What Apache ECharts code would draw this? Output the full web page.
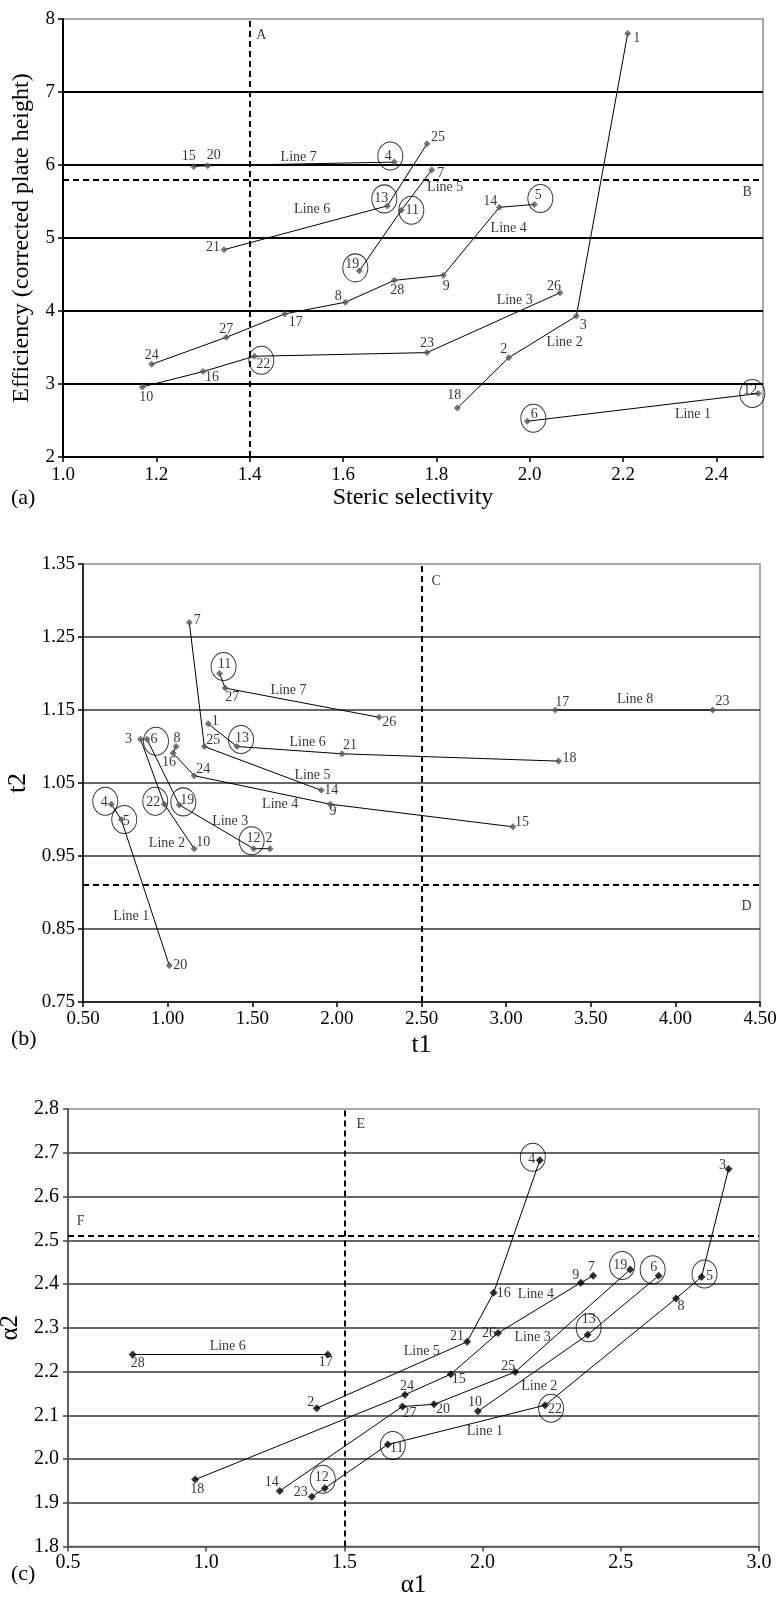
<!DOCTYPE html>
<html><head><meta charset="utf-8">
<script src="https://cdn.jsdelivr.net/npm/echarts@6/dist/echarts.min.js"></script>
<style>html,body{margin:0;padding:0;background:#fff}#c{width:779px;height:1598px}</style>
</head><body><div id="c"></div>
<script>
// ---------- Panel (a): Steric selectivity vs Efficiency ----------
const aIds = [1,2,3,4,5,6,7,8,9,10,11,12,13,14,15,16,17,18,19,20,21,22,23,24,25,26,27,28];
const aX = [2.21,1.955,2.10,1.71,2.01,1.995,1.79,1.605,1.815,1.17,1.725,2.49,1.695,1.935,1.28,1.30,1.475,1.845,1.635,1.31,1.345,1.41,1.78,1.19,1.78,2.065,1.35,1.71];
const aY = [7.80,3.36,3.93,6.04,5.46,2.49,5.93,4.12,4.49,2.96,5.38,2.87,5.44,5.42,5.98,3.17,3.96,2.67,4.55,5.99,4.84,3.38,3.43,3.27,6.29,4.25,3.64,4.42];
const aLines = [[6,12],[18,2,3,1],[10,16,22,23,26],[24,27,17,8,28,9,14,5],[19,11,7],[21,13,25],[15,20,4]];
const aCircled = [4,13,11,19,5,22,6,12];
const aNotes = [['Line 7',1.505,6.108],['Line 6',1.534,5.394],['Line 5',1.819,5.69],['Line 4',1.955,5.131],['Line 3',1.968,4.143],['Line 2',2.075,3.566],['Line 1',2.35,2.588],['A',1.425,7.77],['B',2.466,5.63]];
const aRefX = 1.4, aRefY = 5.8;
const aXAxis = {min:1.0, max:2.5, interval:0.2, decimals:1, name:'Steric selectivity'};
const aYAxis = {min:2, max:8, interval:1, decimals:0, name:'Efficiency (corrected plate height)'};

// ---------- Panel (b): t1 vs t2 ----------
const bIds = [1,2,3,4,5,6,7,8,9,10,11,12,13,14,15,16,17,18,19,20,21,22,23,24,25,26,27];
const bX = [1.24,1.605,0.84,0.667,0.726,0.878,1.128,1.05,1.96,1.157,1.307,1.508,1.41,1.908,3.04,1.032,3.29,3.31,1.069,1.01,2.03,0.98,4.22,1.157,1.217,2.25,1.34];
const bY = [1.131,0.96,1.11,1.021,1.00,1.11,1.27,1.10,1.021,0.96,1.20,0.96,1.10,1.04,0.99,1.091,1.15,1.08,1.02,0.80,1.09,1.021,1.15,1.06,1.10,1.14,1.18];
const bLines = [[4,5,20],[3,22,10],[6,19,12,2],[8,16,24,9,15],[7,25,14],[1,13,21,18],[11,27,26],[17,23]];
const bCircled = [11,13,6,4,5,22,19,12];
const bNotes = [['Line 7',1.714,1.177],['Line 6',1.827,1.106],['Line 5',1.856,1.061],['Line 4',1.665,1.021],['Line 3',1.37,0.998],['Line 2',0.996,0.968],['Line 1',0.785,0.867],['Line 8',3.762,1.164],['C',2.587,1.326],['D',4.42,0.881]];
const bRefX = 2.5, bRefY = 0.907;
const bXAxis = {min:0.5, max:4.5, interval:0.5, decimals:2, name:'t1'};
const bYAxis = {min:0.75, max:1.35, interval:0.1, decimals:2, name:'t2'};

// ---------- Panel (c): α1 vs α2 ----------
const cIds = [2,3,4,5,6,7,8,9,10,11,12,13,14,15,16,17,18,19,20,21,22,23,24,25,26,27,28];
const cX = [1.40,2.89,2.207,2.792,2.637,2.40,2.70,2.355,1.983,1.657,1.429,2.38,1.266,1.885,2.04,1.44,0.96,2.534,1.824,1.944,2.226,1.382,1.719,2.118,2.056,1.71,0.734];
const cY = [2.116,2.663,2.683,2.416,2.419,2.419,2.367,2.403,2.109,2.033,1.933,2.284,1.927,2.194,2.38,2.239,1.953,2.433,2.125,2.268,2.123,1.914,2.147,2.199,2.288,2.12,2.239];
const cLines = [[23,12,11,22,8,5,3],[10,13,6],[14,27,20,25,19],[18,24,15,26,9,7],[2,21,16,4],[28,17]];
const cCircled = [4,19,6,5,13,22,11,12];
const cNotes = [['Line 6',1.078,2.258],['Line 5',1.78,2.245],['Line 4',2.193,2.377],['Line 3',2.181,2.279],['Line 2',2.205,2.166],['Line 1',2.008,2.063],['E',1.559,2.766],['F',0.546,2.544]];
const cRefX = 1.5, cRefY = 2.508;
const cXAxis = {min:0.5, max:3.0, interval:0.5, decimals:1, name:'α1'};
const cYAxis = {min:1.8, max:2.8, interval:0.1, decimals:1, name:'α2'};

// ---------- Styling (label offsets in px relative to each point) ----------
const aLab = {1:[9,5],2:[-5,-8],3:[7,9],4:[-6,-6],5:[4,-9],6:[7,-7],7:[9,3],8:[-7,-6],9:[3,11],10:[4,10],11:[11,0],12:[-8,-3],13:[-6,-8],14:[-9,-6],15:[-5,-10],16:[9,6],17:[11,8],18:[-3,-13],19:[-7,-7],20:[6,-10],21:[-11,-2],22:[9,8],23:[0,-9],24:[0,-9],25:[11,-7],26:[-6,-6],27:[0,-8],28:[3,10]};
const aCir = {4:[-4,-6],5:[6,-6],6:[6,-3],11:[10,0],12:[-6,0],13:[-3,-7],19:[-4,-3],22:[7,4]};
const bLab = {1:[7,-3],2:[-1,-10],3:[-12,0],4:[-7,-2],5:[5,2],6:[7,0],7:[8,-2],8:[1,-8],9:[3,7],10:[9,-6],11:[5,-9],12:[0,-10],13:[5,-8],14:[10,0],15:[9,-4],16:[-4,9],17:[7,-8],18:[11,-3],19:[8,-5],20:[11,0],21:[8,-8],22:[-11,-2],23:[10,-9],24:[9,-6],25:[9,-6],26:[10,5],27:[7,9]};
const bCir = {4:[-6,-3],5:[3,0],6:[9,2],11:[4,-7],12:[-2,-8],13:[4,-7],19:[4,-3],22:[-9,-3]};
const cLab = {2:[-6,-6],3:[-6,-4],4:[-8,-1],5:[8,-1],6:[-5,-8],7:[-2,-8],8:[5,8],9:[-5,-7],10:[-3,-9],11:[9,4],12:[-3,-11],13:[1,-15],14:[-8,-9],15:[8,5],16:[10,1],17:[-2,8],18:[2,10],19:[-10,-4],20:[9,5],21:[-10,-5],22:[10,4],23:[-11,-4],24:[2,-8],25:[-7,-6],26:[-9,0],27:[7,7],28:[5,9]};
const cCir = {4:[-7,-3],5:[3,-3],6:[-6,-6],11:[5,1],12:[-2,-9],13:[1,-7],19:[-8,-4],22:[6,3]};

const FONT = 'Liberation Serif';
const panels = [
  {ids:aIds,x:aX,y:aY,lines:aLines,circ:aCircled,notes:aNotes,rx:aRefX,ry:aRefY,xa:aXAxis,ya:aYAxis,lab:aLab,cir:aCir,
   grid:{left:63,top:19,width:700,height:438}, mk:'#555', mkSize:7, split:'#000', splitW:2, axisC:'#000', axisW:2,
   tickFont:19, nameFont:24, xGap:29, yGap:29, xMarg:9, yMarg:8, hideMax:true},
  {ids:bIds,x:bX,y:bY,lines:bLines,circ:bCircled,notes:bNotes,rx:bRefX,ry:bRefY,xa:bXAxis,ya:bYAxis,lab:bLab,cir:bCir,
   grid:{left:83,top:564,width:677,height:438}, mk:'#555', mkSize:7, split:'#333', splitW:1.5, axisC:'#000', axisW:1.5,
   tickFont:19, nameFont:26, xGap:30, yGap:49, xMarg:8, yMarg:8, hideMax:false},
  {ids:cIds,x:cX,y:cY,lines:cLines,circ:cCircled,notes:cNotes,rx:cRefX,ry:cRefY,xa:cXAxis,ya:cYAxis,lab:cLab,cir:cCir,
   grid:{left:68,top:1109,width:691,height:437.5}, mk:'#000', mkSize:8, split:'#666', splitW:2, axisC:'#444', axisW:1.5,
   tickFont:20, nameFont:25, xGap:26, yGap:33, xMarg:6, yMarg:9, hideMax:false}
];

const grids = [], xAxes = [], yAxes = [], series = [];
panels.forEach((p, g) => {
  grids.push(Object.assign({show:true, borderColor:'#aaa', borderWidth:2, backgroundColor:'transparent', outerBoundsMode:'none', containLabel:false}, p.grid));
  const mkAxis = (ax, isX) => ({
    type:'value', gridIndex:g, min:ax.min, max:ax.max, interval:ax.interval,
    name:ax.name, nameLocation:'middle', nameGap: isX ? p.xGap : p.yGap, nameRotate: isX ? 0 : 90,
    nameTextStyle:{fontFamily:FONT, fontSize:p.nameFont, color:'#000'},
    axisLine:{show:true, onZero:false, lineStyle:{color:p.axisC, width:p.axisW}},
    axisTick:{show:true, inside:false, length:5, lineStyle:{color:p.axisC, width:1.5}},
    axisLabel:{show:true, fontFamily:FONT, fontSize:p.tickFont, color:'#000', margin: isX ? p.xMarg : p.yMarg,
      showMaxLabel: isX && p.hideMax ? false : true,
      formatter: v => Number(v).toFixed(ax.decimals)},
    splitLine:{show:!isX, showMinLine:false, showMaxLine:false, lineStyle:{color:p.split, width:p.splitW}}
  });
  xAxes.push(mkAxis(p.xa, true));
  yAxes.push(mkAxis(p.ya, false));
  const pt = id => { const i = p.ids.indexOf(id); return [p.x[i], p.y[i]]; };
  p.lines.forEach(L => {
    series.push({type:'line', xAxisIndex:g, yAxisIndex:g, data:L.map(pt), showSymbol:false, symbol:'none',
      lineStyle:{color:'#000', width:1}, silent:true, animation:false, z:2});
  });
  series.push({type:'scatter', xAxisIndex:g, yAxisIndex:g, symbol:'diamond', symbolSize:p.mkSize,
    itemStyle:{color:p.mk}, silent:true, animation:false, z:3,
    data:p.ids.map((id, i) => ({value:[p.x[i], p.y[i]],
      label:{show:true, position:'inside', offset:p.lab[id] || [8,-8], formatter:String(id),
        fontFamily:FONT, fontSize:14, color:'#000'}})),
    markLine:{silent:true, symbol:['none','none'], animation:false, label:{show:false},
      lineStyle:{type:[6,4], color:'#000', width:2},
      data:[{xAxis:p.rx},{yAxis:p.ry}]}
  });
  series.push({type:'scatter', xAxisIndex:g, yAxisIndex:g, symbol:'circle', symbolSize:[25,28],
    itemStyle:{color:'rgba(0,0,0,0)', borderColor:'#000', borderWidth:1}, silent:true, animation:false, z:4,
    data:p.circ.map(id => ({value:pt(id), symbolOffset:p.cir[id] || [0,0]}))
  });
  series.push({type:'scatter', xAxisIndex:g, yAxisIndex:g, symbolSize:0, silent:true, animation:false, z:5,
    data:p.notes.map(n => ({value:[n[1], n[2]],
      label:{show:true, position:'inside', formatter:n[0], fontFamily:FONT, fontSize:14, color:'#000'}}))
  });
});

const chart = echarts.init(document.getElementById('c'), null, {renderer:'canvas'});
chart.setOption({
  animation:false,
  backgroundColor:'#fff',
  textStyle:{fontFamily:FONT},
  grid:grids, xAxis:xAxes, yAxis:yAxes, series:series,
  graphic:[
    {type:'text', left:11, top:487, style:{text:'(a)', font:'22px "Liberation Serif"', fill:'#000'}},
    {type:'text', left:11, top:1028, style:{text:'(b)', font:'22px "Liberation Serif"', fill:'#000'}},
    {type:'text', left:11, top:1563, style:{text:'(c)', font:'22px "Liberation Serif"', fill:'#000'}}
  ]
});
</script>
</body></html>
